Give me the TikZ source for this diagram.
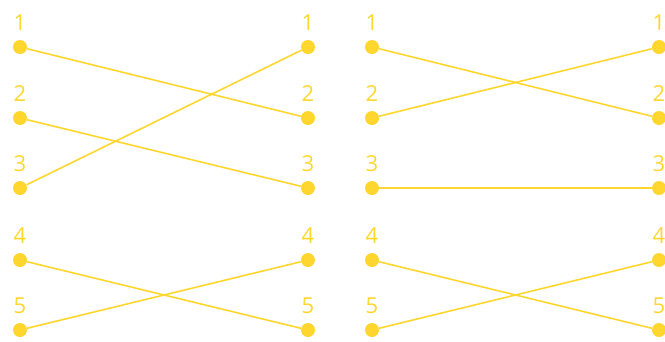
\documentclass[tikz,border=0pt]{standalone}
\usepackage{fontspec}
\setmainfont{Open Sans}
\usepackage{tikz}
\usetikzlibrary{positioning}

\definecolor{pinyellow}{HTML}{FFD62E}

\begin{document}
\begin{tikzpicture}[
    x=1pt, y=-1pt,
    pin/.style={
        circle,
        fill=pinyellow,
        inner sep=0pt,
        minimum size=14pt
    },
    num/.style={
        text=pinyellow,
        font=\fontsize{22}{22}\selectfont,
        inner sep=0pt
    },
    wire/.style={
        draw=pinyellow,
        line width=1.6pt
    }
]
\useasboundingbox (0,0) rectangle (665,341);

% === Left panel ===
\foreach \i/\y in {1/47, 2/118, 3/188, 4/260, 5/330} {
    \node[pin] (la\i) at (20,\y) {};
    \node[pin] (ra\i) at (308,\y) {};
    \node[num, above=9pt of la\i] (tla\i) {\i};
    \node[num, above=9pt of ra\i] (tra\i) {\i};
}

% === Right panel ===
\foreach \i/\y in {1/47, 2/118, 3/188, 4/260, 5/330} {
    \node[pin] (lb\i) at (372,\y) {};
    \node[pin] (rb\i) at (659,\y) {};
    \node[num, above=9pt of lb\i] (tlb\i) {\i};
    \node[num, above=9pt of rb\i] (trb\i) {\i};
}

% === Wires ===
\draw[wire] (la1) -- (ra2);
\draw[wire] (la2) -- (ra3);
\draw[wire] (la3) -- (ra1);
\draw[wire] (la4) -- (ra5);
\draw[wire] (la5) -- (ra4);

\draw[wire] (lb1) -- (rb2);
\draw[wire] (lb2) -- (rb1);
\draw[wire] (lb3) -- (rb3);
\draw[wire] (lb4) -- (rb5);
\draw[wire] (lb5) -- (rb4);
\end{tikzpicture}
\end{document}
